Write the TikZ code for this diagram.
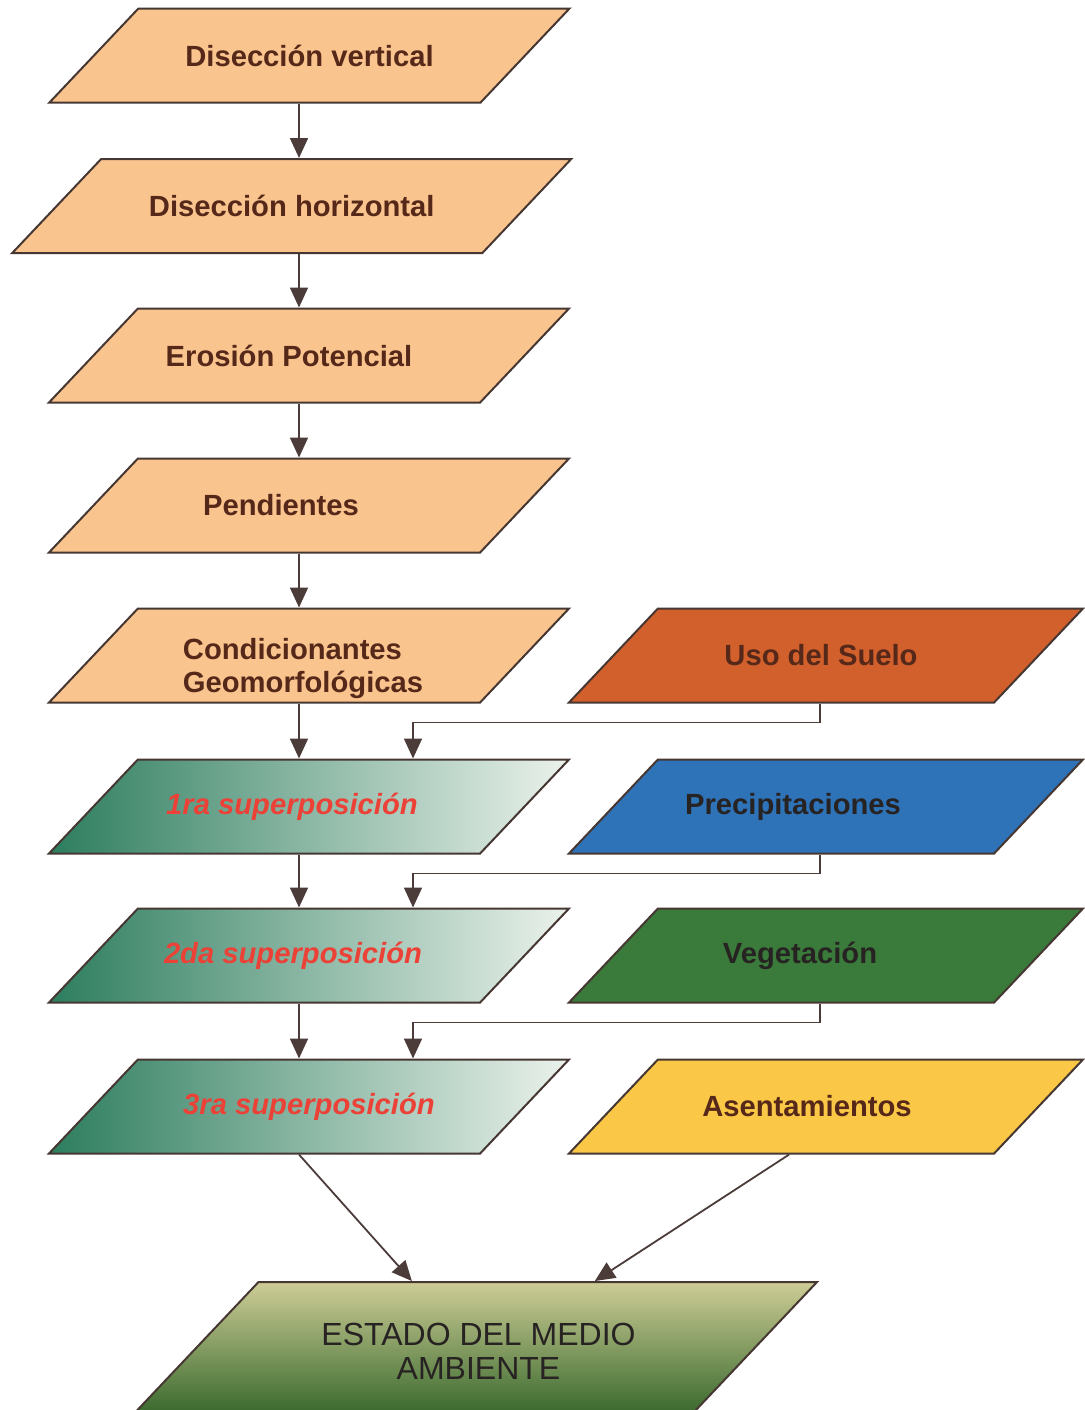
\documentclass[tikz,border=0pt]{standalone}
\usepackage{fontspec}
\setmainfont{Liberation Sans}
\usetikzlibrary{shapes.geometric,arrows.meta,calc}

\definecolor{peach}{RGB}{250,196,142}
\definecolor{usocol}{RGB}{209,96,44}
\definecolor{precol}{RGB}{46,114,184}
\definecolor{vegcol}{RGB}{58,122,58}
\definecolor{asecol}{RGB}{250,200,70}
\definecolor{supdark}{RGB}{45,125,95}
\definecolor{supmid}{RGB}{150,195,175}
\definecolor{suplight}{RGB}{235,242,236}
\definecolor{supred}{RGB}{235,65,55}
\definecolor{envtop}{RGB}{205,205,150}
\definecolor{envbot}{RGB}{50,100,40}
\definecolor{edgecol}{RGB}{70,55,50}
\definecolor{linecol}{RGB}{75,60,58}
\definecolor{txtcol}{RGB}{85,40,25}
\definecolor{darktxt}{RGB}{40,35,35}

\begin{document}
\begin{tikzpicture}[x=0.5pt,y=-0.5pt,
    box/.style={trapezium, trapezium left angle=46.6, trapezium right angle=133.4,
        trapezium stretches body, draw=edgecol, line width=1pt,
        minimum width=260pt, inner xsep=0pt, inner ysep=23.5pt},
    txt/.style={font=\fontsize{14.6}{17}\selectfont\bfseries, text=txtcol},
    suptxt/.style={font=\fontsize{14.6}{17}\selectfont\bfseries\itshape, text=supred},
    supbox/.style={box, left color=supdark, middle color=supmid, right color=suplight},
    flow/.style={draw=linecol, line width=0.9pt, -{Triangle[width=9pt,length=10pt]}}]
    \useasboundingbox (0,0) rectangle (1084,1410);

    % columns for the connectors
    \coordinate (lcol) at (299,0);
    \coordinate (jcol) at (413,0);
    \coordinate (rcol) at (820,0);

    % left column
    \node[box, fill=peach, label={[txt]center:Disección vertical}] (dv) at (309.5,55.5) {};
    \node[box, fill=peach, minimum width=279.5pt, label={[txt]center:Disección horizontal}] (dh) at (291.75,206) {};
    \node[box, fill=peach, label={[txt,xshift=-10pt]center:Erosión Potencial}] (ep) at (309,355.5) {};
    \node[box, fill=peach, label={[txt,xshift=-14pt]center:Pendientes}] (pend) at (309,505.5) {};
    \node[box, fill=peach, label={[txt,align=left,xshift=-3pt,yshift=-6.5pt]center:Condicionantes\\Geomorfológicas}] (cond) at (309,655.5) {};

    % superpositions
    \node[supbox, label={[suptxt,xshift=-8.5pt]center:1ra superposición}] (sup1) at (309,806.5) {};
    \node[supbox, label={[suptxt,xshift=-8pt]center:2da superposición}] (sup2) at (309,955.5) {};
    \node[supbox, label={[suptxt]center:3ra superposición}] (sup3) at (309,1106.5) {};

    % right column
    \node[box, fill=usocol, minimum width=257pt, label={[txt,xshift=-2.5pt]center:Uso del Suelo}] (uso) at (826,655.5) {};
    \node[box, fill=precol, minimum width=257pt, label={[txt,text=darktxt,xshift=-16.5pt]center:Precipitaciones}] (prec) at (826,806.5) {};
    \node[box, fill=vegcol, minimum width=257pt, label={[txt,text=darktxt,xshift=-13pt]center:Vegetación}] (veg) at (826,955.5) {};
    \node[box, fill=asecol, minimum width=257pt, label={[txt,xshift=-9.5pt]center:Asentamientos}] (ase) at (826,1106.5) {};

    % result
    \node[box, minimum width=344.5pt, inner ysep=34.5pt, top color=envtop, bottom color=envbot,
        label={[font=\fontsize{16}{17}\selectfont, text=darktxt, align=center, xshift=3pt]center:ESTADO DEL MEDIO\\AMBIENTE}] (env) at (472.5,1351) {};

    % main chain
    \draw[flow] (dv.south -| lcol) -- (dh.north -| lcol);
    \draw[flow] (dh.south -| lcol) -- (ep.north -| lcol);
    \draw[flow] (ep.south -| lcol) -- (pend.north -| lcol);
    \draw[flow] (pend.south -| lcol) -- (cond.north -| lcol);
    \draw[flow] (cond.south -| lcol) -- (sup1.north -| lcol);
    \draw[flow] (sup1.south -| lcol) -- (sup2.north -| lcol);
    \draw[flow] (sup2.south -| lcol) -- (sup3.north -| lcol);

    % layers joining in
    \draw[flow] (uso.south -| rcol) -- ++(0,19) -| (sup1.north -| jcol);
    \draw[flow] (prec.south -| rcol) -- ++(0,19) -| (sup2.north -| jcol);
    \draw[flow] (veg.south -| rcol) -- ++(0,19) -| (sup3.north -| jcol);

    % to the result
    \draw[flow] (sup3.south -| lcol) -- ($(env.top left corner)!0.274!(env.top right corner)$);
    \draw[flow] ($(ase.bottom left corner)!0.52!(ase.bottom right corner)$) -- ($(env.top left corner)!0.6!(env.top right corner)$);
\end{tikzpicture}
\end{document}
